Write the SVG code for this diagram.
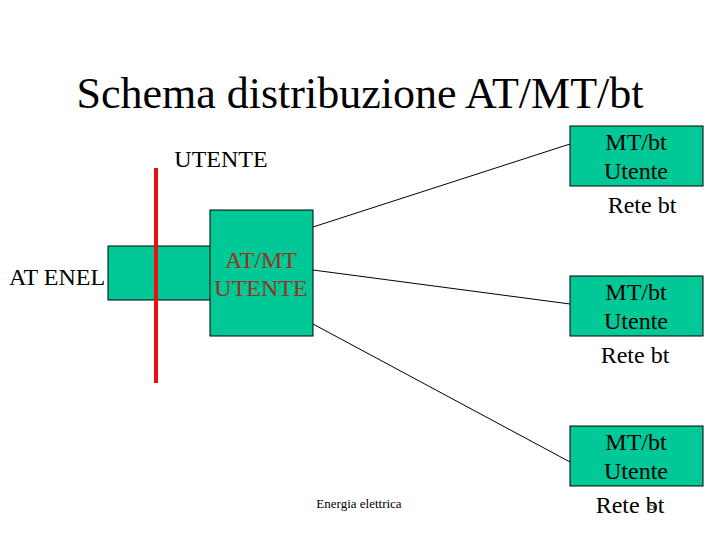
<svg xmlns="http://www.w3.org/2000/svg" width="720" height="540" viewBox="0 0 720 540" font-family="'Liberation Serif', 'DejaVu Serif', serif">
<style>
text{font-family:'Liberation Serif','DejaVu Serif',serif;fill:#000}
.box{fill:#00C896;stroke:#000;stroke-width:1}
.c{text-anchor:middle}
.t24{font-size:24px}
.conn line{stroke:#000;stroke-width:1}
</style>
<rect width="720" height="540" fill="#fff"/>
<text x="360" y="108" class="c" style="font-size:44px">Schema distribuzione AT/MT/bt</text>
<text x="221" y="167" class="c t24">UTENTE</text>
<g id="at-enel">
<rect class="box" x="108" y="246" width="103" height="54"/>
<text x="57" y="285" class="c t24">AT ENEL</text>
</g>
<line x1="156" y1="168" x2="156" y2="383" stroke="#E81010" stroke-width="4"/>
<g id="atmt-utente">
<rect class="box" x="210" y="210" width="103" height="126"/>
<text x="261" y="268" class="c t24" style="fill:#993322">AT/MT</text>
<text x="261" y="296" class="c t24" style="fill:#993322">UTENTE</text>
</g>
<g class="conn" id="connectors">
<line x1="313" y1="227" x2="570" y2="144"/>
<line x1="313" y1="270" x2="570" y2="304"/>
<line x1="313" y1="324" x2="570" y2="462"/>
</g>
<g id="mtbt-1">
<rect class="box" x="570" y="126" width="133" height="60"/>
<text x="636" y="150" class="c t24">MT/bt</text>
<text x="636" y="179" class="c t24">Utente</text>
<text x="642" y="213" class="c t24">Rete bt</text>
</g>
<g id="mtbt-2">
<rect class="box" x="570" y="276" width="133" height="60"/>
<text x="636" y="300" class="c t24">MT/bt</text>
<text x="636" y="329" class="c t24">Utente</text>
<text x="635" y="363" class="c t24">Rete bt</text>
</g>
<g id="mtbt-3">
<rect class="box" x="570" y="426" width="133" height="60"/>
<text x="636" y="450" class="c t24">MT/bt</text>
<text x="636" y="479" class="c t24">Utente</text>
<text x="630" y="513" class="c t24">Rete bt</text>
</g>
<text x="359" y="508" class="c" style="font-size:13px">Energia elettrica</text>
<text x="652" y="510" class="c" style="font-size:13px">5</text>
</svg>
